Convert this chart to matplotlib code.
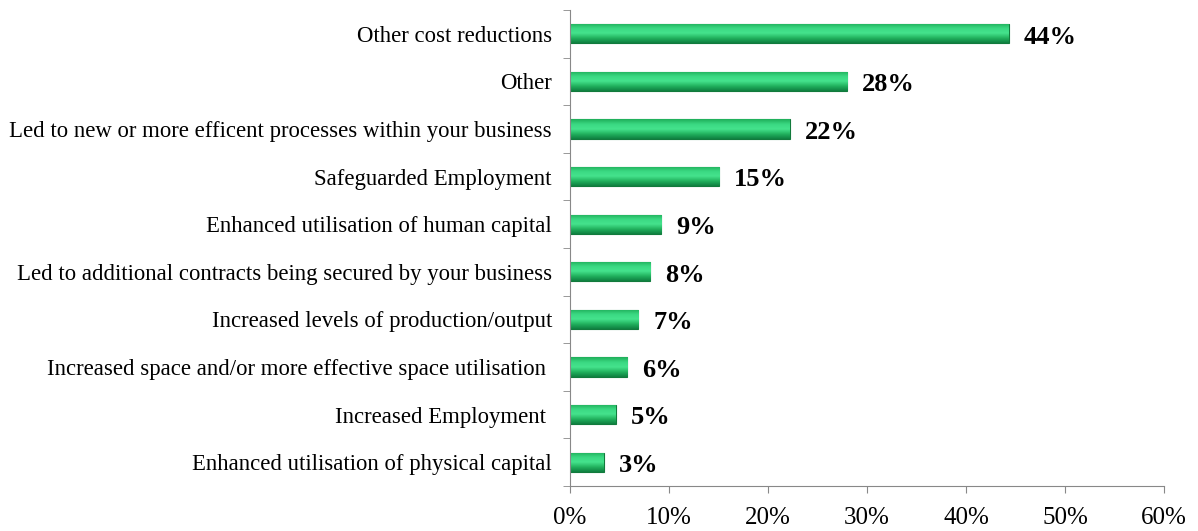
import numpy as np
import matplotlib
matplotlib.use("Agg")
import matplotlib.pyplot as plt
from matplotlib.colors import LinearSegmentedColormap

# categories listed bottom to top
categories = [
    "Enhanced utilisation of physical capital",
    "Increased Employment ",
    "Increased space and/or more effective space utilisation ",
    "Increased levels of production/output",
    "Led to additional contracts being secured by your business",
    "Enhanced utilisation of human capital",
    "Safeguarded Employment",
    "Led to new or more efficent processes within your business",
    "Other",
    "Other cost reductions",
]
values = [3.4, 4.6, 5.8, 6.9, 8.1, 9.2, 15.1, 22.2, 28.0, 44.3]
xticks = [0, 10, 20, 30, 40, 50, 60]

plt.rcParams["font.family"] = ["Liberation Serif", "DejaVu Serif"]

fig = plt.figure(figsize=(11.98, 5.31), dpi=100)
ax = fig.add_axes([0.4758, 0.0847, 0.4958, 0.8965])

# bevelled green look: vertical gradient clipped to each bar
bevel = LinearSegmentedColormap.from_list(
    "bevel", ["#0f8040", "#22b25e", "#45e38d", "#3ad882", "#1fae59"])
grad = np.linspace(0, 1, 64).reshape(-1, 1)

y = np.arange(len(categories))
height = 0.4
bars = ax.barh(y, values, height=height, color="#22b25e",
               edgecolor="#127a3c", linewidth=0.8, zorder=2)
for b in bars:
    x0, y0 = b.get_x(), b.get_y()
    im = ax.imshow(grad, cmap=bevel, aspect="auto", origin="lower",
                   extent=(x0, x0 + b.get_width(), y0, y0 + b.get_height()),
                   zorder=2.5, interpolation="bilinear")
    im.set_clip_path(b)

for yi, v in zip(y, values):
    ax.text(v + 1.5, yi - 0.07, f"{round(v)}%", va="center", ha="left",
            fontsize=19, fontweight="bold")

ax.set_xlim(0, 60)
ax.set_ylim(-0.5, len(categories) - 0.5)
ax.set_xticks(xticks)
ax.set_xticklabels([f"{t}%" for t in xticks], fontsize=18)

# category labels sit between boundary ticks
ax.set_yticks(y)
ax.set_yticklabels(categories, fontsize=16.4)
ax.tick_params(axis="y", length=0, pad=13)
ax.set_yticks(np.arange(-0.5, len(categories), 1.0), minor=True)
ax.tick_params(axis="y", which="minor", length=5, color="#888888")
ax.tick_params(axis="x", length=5, color="#888888", pad=10)

for side in ("top", "right"):
    ax.spines[side].set_visible(False)
for side in ("left", "bottom"):
    ax.spines[side].set_color("#888888")

fig.savefig("out.png", dpi=100)
